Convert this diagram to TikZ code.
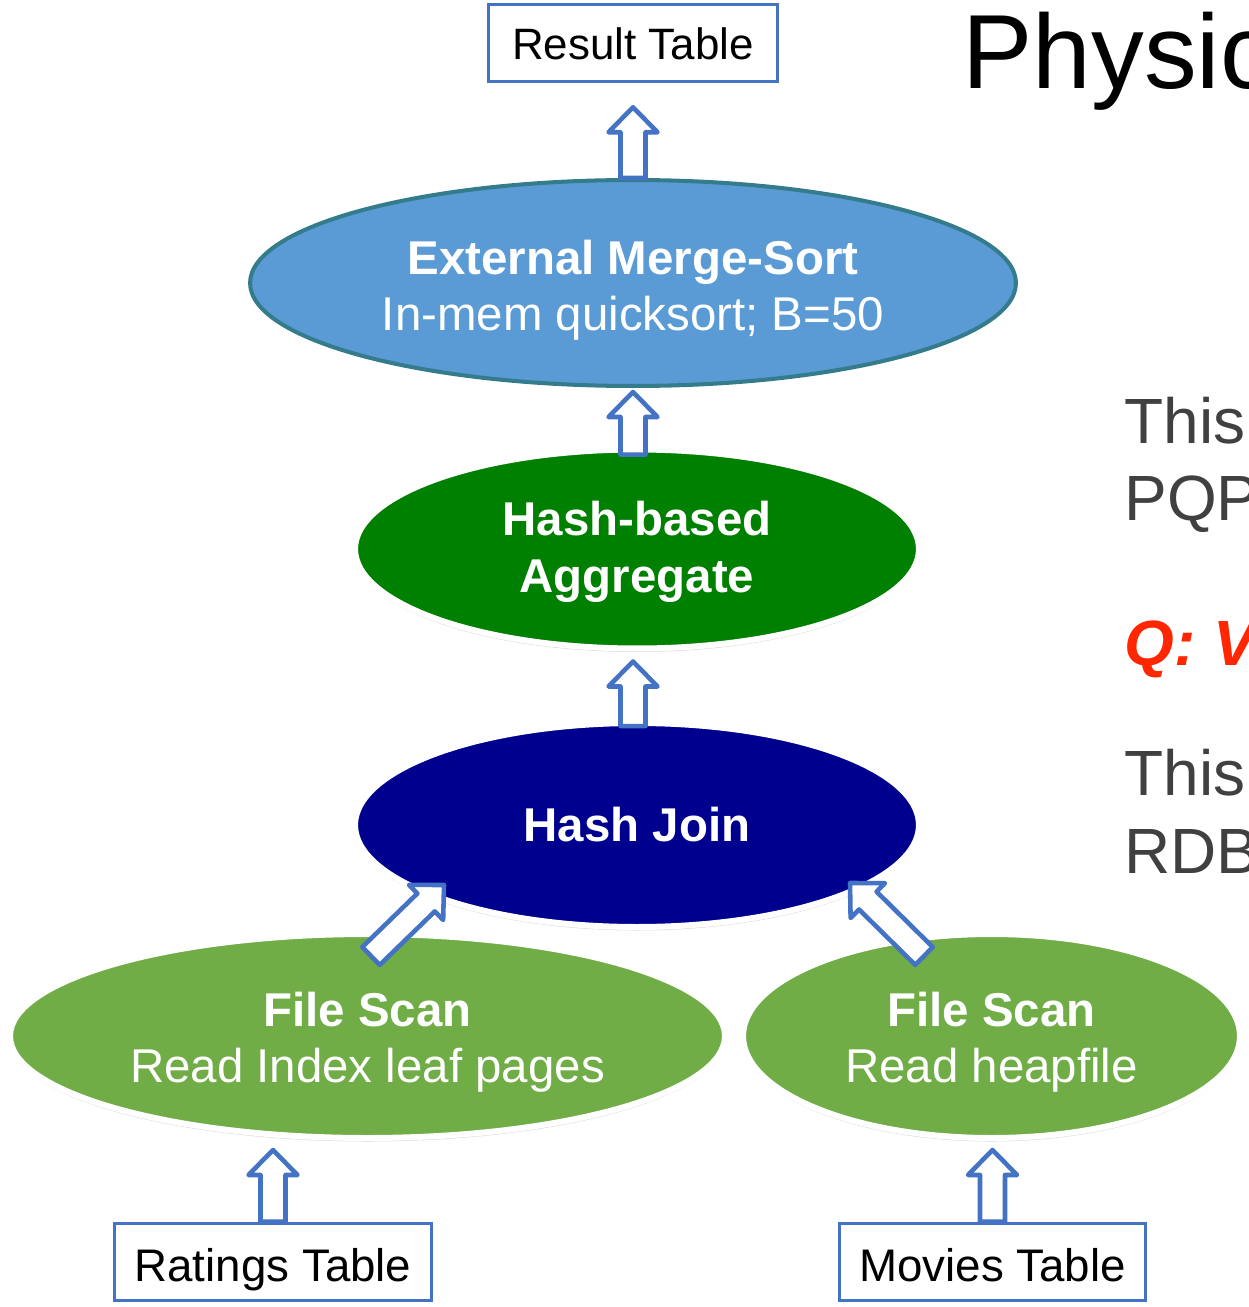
\documentclass[tikz,border=0pt]{standalone}
\usepackage{fontspec}
\setmainfont{Liberation Sans}
\usetikzlibrary{shapes.geometric, positioning, calc, shadows}

\definecolor{boxblue}{RGB}{68,114,196}
\definecolor{sortblue}{RGB}{91,155,213}
\definecolor{sortedge}{RGB}{52,124,140}
\definecolor{aggreen}{RGB}{0,128,0}
\definecolor{joinblue}{RGB}{0,0,143}
\definecolor{scangreen}{RGB}{112,173,71}
\definecolor{sidegray}{RGB}{64,64,64}
\definecolor{qred}{RGB}{255,38,0}

% strut that pushes two-line labels a bit lower
\newcommand{\opstrut}[1]{\rule{0pt}{#1}}

% hollow block arrow from tail #1 to tip #2
\newcommand{\blockarrow}[2]{%
  \coordinate (bhead) at ($(#2)!0.5cm!(#1)$);
  \draw[blockarrow] ($(#1)!0.25cm!90:(#2)$) -- ($(bhead)!0.25cm!90:(#2)$)
    -- ($(bhead)!0.49cm!90:(#2)$) -- (#2) -- ($(bhead)!0.49cm!-90:(#2)$)
    -- ($(bhead)!0.25cm!-90:(#2)$) -- ($(#1)!0.25cm!-90:(#2)$) -- cycle;
}

\begin{document}
\begin{tikzpicture}[x=0.02cm, y=-0.02cm,
    tablebox/.style={draw=boxblue, line width=2pt, minimum height=1.54cm, inner sep=0pt, text height=22.4pt, text depth=0pt, font=\fontsize{26}{30}\selectfont},
    planop/.style={ellipse, inner sep=0pt, text=white, align=center, font=\fontsize{27}{32}\selectfont},
    litop/.style={planop, draw=white, line width=3.4pt, drop shadow={opacity=0.3, shadow xshift=0pt, shadow yshift=-2pt}},
    blockarrow/.style={draw=boxblue, fill=white, line width=2.6pt, line join=round},
    sidetext/.style={anchor=base west, inner sep=0pt, text=sidegray, font=\fontsize{36.4}{44}\selectfont}]
    \useasboundingbox (0,0) rectangle (1248,1307);
    \clip (0,0) rectangle (1248,1307);

    % Draw the operators of the plan
    \node[planop, fill=sortblue, draw=sortedge, line width=2.3pt, minimum width=15.32cm, minimum height=4.12cm] (sort) at (633,283) {\opstrut{27.7pt}\textbf{External Merge-Sort}\\In-mem quicksort; B=50};
    \node[litop, fill=aggreen, minimum width=11.28cm, minimum height=3.98cm] (agg) at (637,549) {\opstrut{22.7pt}\textbf{Hash-based}\\\textbf{Aggregate}};
    \node[litop, fill=joinblue, minimum width=11.28cm, minimum height=4.08cm] (join) at (637,825) {\textbf{Hash Join}};
    \node[litop, fill=scangreen, minimum width=14.3cm, minimum height=4.08cm] (scanl) at (367.5,1036) {\opstrut{26.5pt}\textbf{File Scan}\\Read Index leaf pages};
    \node[litop, fill=scangreen, minimum width=9.94cm, minimum height=4.08cm] (scanr) at (991.5,1036) {\opstrut{26.5pt}\textbf{File Scan}\\Read heapfile};

    % Draw the tables
    \node[tablebox, minimum width=5.78cm, text height=19pt, font=\fontsize{25}{30}\selectfont] (result) at (633,43) {Result Table};
    \node[tablebox, minimum width=6.34cm] (ratings) at (273,1262) {Ratings Table};
    \node[tablebox, minimum width=6.12cm] (movies) at (992.5,1262) {Movies Table};

    % Draw the data flow arrows
    \coordinate (r1) at ($(result.south)+(0,24)$);
    \blockarrow{sort.north}{r1}
    \coordinate (s1) at ($(sort.south)+(0,4)$);
    \coordinate (a1) at ($(sort.south |- agg.north)+(0,8)$);
    \blockarrow{a1}{s1}
    \coordinate (a2) at ($(sort.south |- agg.south)+(0,10)$);
    \coordinate (j1) at ($(sort.south |- join.north)+(0,6)$);
    \blockarrow{j1}{a2}
    \coordinate (jl) at ($(join.center)+(-193,60)$);
    \coordinate (sl) at ($(scanl.center)+(3.5,-80)$);
    \blockarrow{sl}{jl}
    \coordinate (jr) at ($(join.center)+(213,58)$);
    \coordinate (sr) at ($(scanr.center)+(-67.5,-80)$);
    \blockarrow{sr}{jr}
    \coordinate (sb1) at ($(ratings.north |- scanl.south)+(0,9)$);
    \blockarrow{ratings.north}{sb1}
    \coordinate (sb2) at ($(movies.north |- scanr.south)+(0,9)$);
    \blockarrow{movies.north}{sb2}

    % Slide text cut off at the right
    \node[sidetext, text=black, font=\fontsize{60}{72}\selectfont] (title) at (962,89) {Physic};
    \node[sidetext] (l1) at (1124,443) {This};
    \node[sidetext] (l2) at (1124,520) {PQP};
    \node[sidetext, text=qred, font=\fontsize{36.4}{44}\selectfont\bfseries\itshape] (q) at (1124,665) {Q: V};
    \node[sidetext] (l3) at (1124,795) {This};
    \node[sidetext] (l4) at (1124,873) {RDB};
  \end{tikzpicture}
\end{document}
